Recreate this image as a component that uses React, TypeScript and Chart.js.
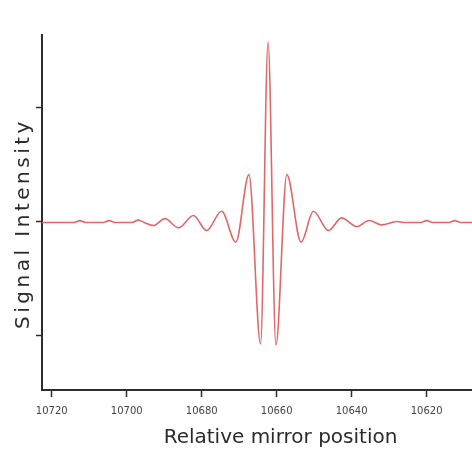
import React, { useEffect, useRef } from "react";
import { Chart, registerables } from "chart.js";

Chart.register(...registerables);

// Relative mirror position (x) and signal intensity (y)
const positions = [
  10722.6, 10714.0, 10712.5, 10711.0, 10706.3, 10704.7, 10703.1, 10698.6,
  10696.9, 10695.2, 10692.9, 10689.8, 10686.2, 10682.2, 10678.7, 10674.7,
  10670.9, 10667.4, 10664.3, 10662.3, 10660.2, 10657.3, 10653.5, 10650.2,
  10646.2, 10642.7, 10638.7, 10635.3, 10632.0, 10628.0, 10626.0, 10621.6,
  10620.0, 10618.4, 10614.1, 10612.5, 10610.9, 10607.9,
];
const intensity = [
  -0.008, -0.008, 0.008, -0.008, -0.008, 0.008, -0.008, -0.008,
  0.012, -0.01, -0.035, 0.025, -0.055, 0.053, -0.079, 0.09,
  -0.18, 0.41, -1.07, 1.57, -1.08, 0.41, -0.18, 0.09,
  -0.079, 0.032, -0.044, 0.009, -0.029, 0.0, -0.008, -0.008,
  0.008, -0.008, -0.008, 0.008, -0.008, -0.008,
];
const xTicks = [10720, 10700, 10680, 10660, 10640, 10620];
const yTicks = [-1, 0, 1];
const xTitle = "Relative mirror position";
const yTitle = "Signal Intensity";

const AXIS = "#2e2e2e";

const titlesPlugin = {
  id: "customTitles",
  afterDraw(chart: any) {
    const ctx = chart.ctx as CanvasRenderingContext2D;
    ctx.save();
    ctx.fillStyle = "#2a2a2a";
    ctx.font = "20px 'DejaVu Sans'";
    ctx.textAlign = "center";
    ctx.textBaseline = "middle";
    ctx.fillText(xTitle, 280.5, 437.5);
    ctx.restore();

    ctx.save();
    ctx.fillStyle = "#2a2a2a";
    ctx.font = "20px 'DejaVu Sans'";
    (ctx as any).letterSpacing = "3.5px";
    ctx.textAlign = "center";
    ctx.textBaseline = "middle";
    ctx.translate(23.5, 223.5);
    ctx.rotate(-Math.PI / 2);
    ctx.fillText(yTitle, 0, 0);
    ctx.restore();
  },
};

export default function App() {
  const ref = useRef<HTMLCanvasElement | null>(null);

  useEffect(() => {
    document.body.style.margin = "0";
    const canvas = ref.current;
    if (!canvas) return;
    const chart = new Chart(canvas, {
      type: "line",
      data: {
        datasets: [
          {
            data: positions.map((x, i) => ({ x, y: intensity[i] })),
            borderColor: "#e06868",
            borderWidth: 1.6,
            pointRadius: 0,
            fill: false,
            cubicInterpolationMode: "monotone",
          },
        ],
      },
      options: {
        responsive: false,
        animation: false,
        layout: { padding: { left: 36, top: 35, right: 0, bottom: 27 } },
        plugins: {
          legend: { display: false },
          tooltip: { enabled: false },
        },
        scales: {
          x: {
            type: "linear",
            reverse: true,
            min: 10607.9,
            max: 10722.6,
            afterBuildTicks: (axis: any) => {
              axis.ticks = xTicks.map((v) => ({ value: v }));
            },
            ticks: {
              callback: (v: any) => String(v),
              font: { family: "'DejaVu Sans'", size: 10 },
              color: "#444444",
              padding: 8,
              maxRotation: 0,
              autoSkip: false,
            },
            grid: {
              drawOnChartArea: false,
              drawTicks: true,
              tickLength: 7,
              tickColor: AXIS,
              tickWidth: 1.5,
            },
            border: { color: AXIS, width: 2 },
          },
          y: {
            type: "linear",
            min: -1.474,
            max: 1.632,
            afterBuildTicks: (axis: any) => {
              axis.ticks = yTicks.map((v) => ({ value: v }));
            },
            ticks: { display: false },
            grid: {
              drawOnChartArea: false,
              drawTicks: true,
              tickLength: 6,
              tickColor: AXIS,
              tickWidth: 1.5,
            },
            border: { color: AXIS, width: 2 },
          },
        },
      },
      plugins: [titlesPlugin],
    } as any);
    return () => chart.destroy();
  }, []);

  return <canvas ref={ref} width={472} height={452} style={{ display: "block" }} />;
}
